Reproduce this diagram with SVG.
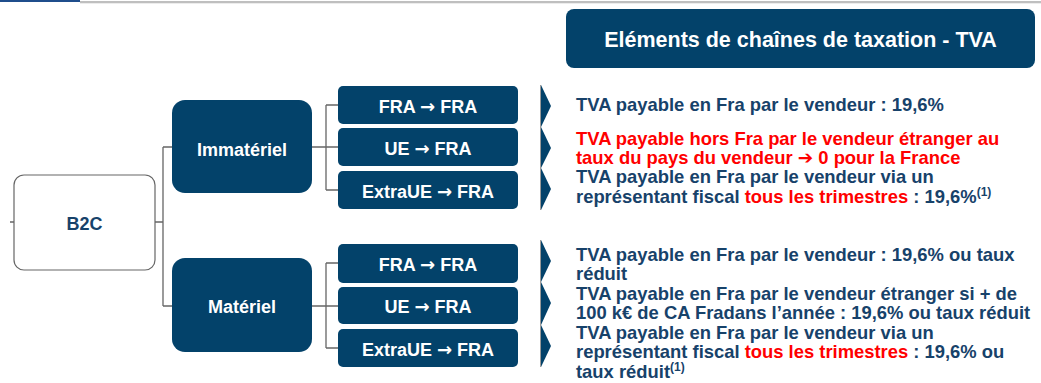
<svg xmlns="http://www.w3.org/2000/svg" width="1041" height="383" viewBox="0 0 1041 383">
<style>
.box{fill:#03426A;}
.bt{font-family:"Liberation Sans",Arial,sans-serif;font-weight:bold;fill:#FFFFFF;text-anchor:middle;}
.ar{font-family:"DejaVu Sans",sans-serif;font-weight:bold;}
.tx{font-family:"Liberation Sans",Arial,sans-serif;font-weight:bold;font-size:18.4px;fill:#17426A;}
.red{fill:#FF0000;}
.ln{stroke:#666666;stroke-width:1.3;fill:none;}
.chev{fill:#03426A;}
.sup{font-size:12px;}
</style>
<rect x="0" y="0" width="80" height="2" fill="#1F4E8C"/>
<rect x="80" y="1" width="961" height="2.3" fill="#BFBFBF"/>

<g id="connectors">
<path class="ln" d="M10,222 H14 M155,222 H163 M163,147 V306 M163,147 H172 M163,306 H172"/>
<path class="ln" d="M312,147 H326 M326,105 V190 M326,105 H338 M326,147 H338 M326,190 H338"/>
<path class="ln" d="M312,306 H326 M326,263 V348 M326,263 H338 M326,306 H338 M326,348 H338"/>
</g>

<g id="title">
<rect class="box" x="566" y="9" width="469" height="59" rx="8"/>
<text class="bt" x="800.5" y="47" font-size="21.5">Eléments de chaînes de taxation - TVA</text>
</g>

<g id="b2c">
<rect x="14" y="175" width="141" height="95" rx="10" fill="#FFFFFF" stroke="#666666" stroke-width="1.2"/>
<text class="bt" x="84.5" y="230" font-size="18" style="fill:#17426A">B2C</text>
</g>

<g id="immateriel">
<rect class="box" x="172" y="100" width="140" height="93" rx="13"/>
<text class="bt" x="242" y="156" font-size="18">Immatériel</text>
</g>
<g id="materiel">
<rect class="box" x="172" y="258" width="140" height="94" rx="13"/>
<text class="bt" x="242" y="313" font-size="18">Matériel</text>
</g>

<g id="imm-fra-fra">
<rect class="box" x="338" y="86" width="180" height="38" rx="5"/>
<text class="bt" x="428" y="113" font-size="18">FRA <tspan class="ar">→</tspan> FRA</text>
</g>
<g id="imm-ue-fra">
<rect class="box" x="338" y="128" width="180" height="38" rx="5"/>
<text class="bt" x="428" y="155" font-size="18">UE <tspan class="ar">→</tspan> FRA</text>
</g>
<g id="imm-extra-fra">
<rect class="box" x="338" y="171" width="180" height="38" rx="5"/>
<text class="bt" x="428" y="198" font-size="18">ExtraUE <tspan class="ar">→</tspan> FRA</text>
</g>
<g id="mat-fra-fra">
<rect class="box" x="338" y="244" width="180" height="39" rx="5"/>
<text class="bt" x="428" y="271" font-size="18">FRA <tspan class="ar">→</tspan> FRA</text>
</g>
<g id="mat-ue-fra">
<rect class="box" x="338" y="287" width="180" height="37" rx="5"/>
<text class="bt" x="428" y="313" font-size="18">UE <tspan class="ar">→</tspan> FRA</text>
</g>
<g id="mat-extra-fra">
<rect class="box" x="338" y="329" width="180" height="38" rx="5"/>
<text class="bt" x="428" y="356" font-size="18">ExtraUE <tspan class="ar">→</tspan> FRA</text>
</g>

<g id="chevrons">
<line x1="540.5" y1="85" x2="540.5" y2="210" stroke="#999999" stroke-width="1"/>
<line x1="540.5" y1="240" x2="540.5" y2="367" stroke="#999999" stroke-width="1"/>
<polygon class="chev" points="541,85 551,106 541,127"/>
<polygon class="chev" points="541,127 551,148 541,168"/>
<polygon class="chev" points="541,168 551,189 541,210"/>
<polygon class="chev" points="541,240 551,261 541,282"/>
<polygon class="chev" points="541,282 551,303 541,325"/>
<polygon class="chev" points="541,325 551,346 541,367"/>
</g>

<g id="texts">
<text class="tx" x="576" y="111">TVA payable en Fra par le vendeur : 19,6%</text>
<text class="tx red" x="576" y="145">TVA payable hors Fra par le vendeur étranger au</text>
<text class="tx red" x="576" y="164">taux du pays du vendeur <tspan font-family="'DejaVu Sans',sans-serif">➔</tspan> 0 pour la France</text>
<text class="tx" x="576" y="183">TVA payable en Fra par le vendeur via un</text>
<text class="tx" x="576" y="203">représentant fiscal <tspan class="red">tous les trimestres</tspan> : 19,6%<tspan class="sup" dy="-7">(1)</tspan></text>
<text class="tx" x="576" y="261">TVA payable en Fra par le vendeur : 19,6% ou taux</text>
<text class="tx" x="576" y="280">réduit</text>
<text class="tx" x="576" y="300">TVA payable en Fra par le vendeur étranger si + de</text>
<text class="tx" x="576" y="319">100 k€ de CA Fradans l’année : 19,6% ou taux réduit</text>
<text class="tx" x="576" y="339">TVA payable en Fra par le vendeur via un</text>
<text class="tx" x="576" y="358">représentant fiscal <tspan class="red">tous les trimestres</tspan> : 19,6% ou</text>
<text class="tx" x="576" y="378">taux réduit<tspan class="sup" dy="-7">(1)</tspan></text>
</g>
</svg>
